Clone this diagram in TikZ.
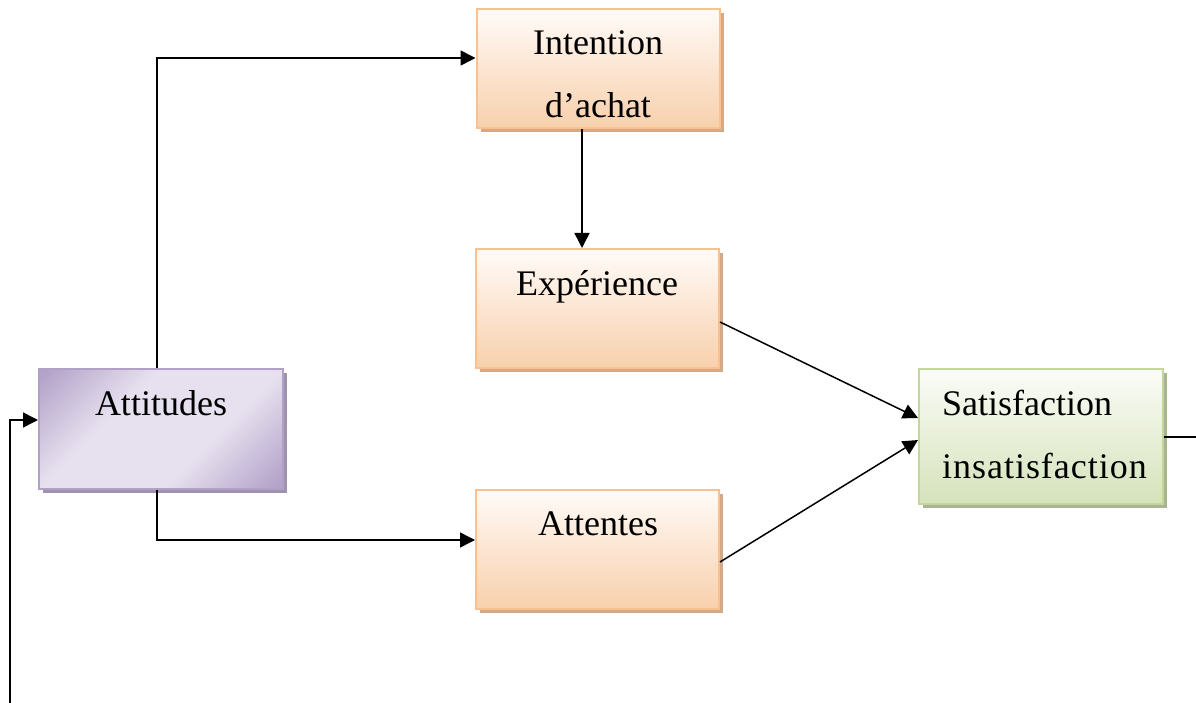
\documentclass[tikz,border=0pt]{standalone}
\usepackage{fontspec}
\setmainfont{Liberation Serif}
\usetikzlibrary{arrows.meta,shadows,calc}

\definecolor{peachline}{HTML}{FAC090}
\definecolor{peachlo}{HTML}{F8D0AC}
\definecolor{peachhi}{HTML}{FFFBF8}
\definecolor{peachsh}{HTML}{D2AA88}
\definecolor{lilacline}{HTML}{B2A1C7}
\definecolor{lilacdark}{HTML}{B3A2C9}
\definecolor{lilaclight}{HTML}{E7E1EF}
\definecolor{lilacsh}{HTML}{9E92AE}
\definecolor{sageline}{HTML}{C3D69B}
\definecolor{sagelo}{HTML}{D5E2BA}
\definecolor{sagehi}{HTML}{FBFCF8}
\definecolor{sagesh}{HTML}{A9B493}

% diagonal sweep: dark corner, light middle, dark corner
\pgfdeclarehorizontalshading{lilacsweep}{100bp}{%
  color(0bp)=(lilacdark); color(16bp)=(lilacdark);
  color(38bp)=(lilaclight); color(62bp)=(lilaclight);
  color(84bp)=(lilacdark); color(100bp)=(lilacdark)}

\begin{document}
\begin{tikzpicture}[x=1pt,y=-1pt,
  box/.style={rectangle, inner sep=0pt, line width=2pt},
  peachbox/.style={box, draw=peachline, top color=peachhi, bottom color=peachlo,
    minimum width=243pt, minimum height=119pt,
    drop shadow={shadow xshift=4pt, shadow yshift=-4pt, fill=peachsh, opacity=1}},
  lilacbox/.style={box, draw=lilacline, shading=lilacsweep, shading angle=-45,
    minimum width=244pt, minimum height=120pt,
    drop shadow={shadow xshift=4pt, shadow yshift=-4pt, fill=lilacsh, opacity=1}},
  sagebox/.style={box, draw=sageline, top color=sagehi, bottom color=sagelo,
    minimum width=244pt, minimum height=135pt,
    drop shadow={shadow xshift=4pt, shadow yshift=-4pt, fill=sagesh, opacity=1}},
  txt/.style={inner sep=0pt, anchor=base, font=\fontsize{36}{43}\selectfont},
  wire/.style={line width=1.5pt, black},
  conn/.style={wire, -{Triangle[length=15pt,width=15pt]}}]

\useasboundingbox (0,0) rectangle (1196,703);

% boxes
\node[peachbox] (int) at (598,69) {};
\node[peachbox] (exp) at (597.5,308.5) {};
\node[peachbox] (ate) at (597.5,549.5) {};
\node[lilacbox] (att) at (161,429) {};
\node[sagebox]  (sat) at (1041,436.5) {};

% texts
\node[txt] (intA) at (598,55) {Intention};
\node[txt] (intB) at (598,118) {d’achat};
\node[txt] (expT) at (597,295) {Expérience};
\node[txt] (ateT) at (598,535) {Attentes};
\node[txt] (attT) at (161,415) {Attitudes};
\node[txt, anchor=base west] (satA) at (942,415) {Satisfaction};
\node[txt, anchor=base west] (satB) at (942,478)
  {\addfontfeature{LetterSpace=2.7}insatisfaction};

% free ends
\coordinate (entry) at (10,703);
\coordinate (exit) at (1196,437);

% connectors
\draw[conn] ($(att.north)+(-4,0)$) |- ($(int.west)+(0,-11)$);
\draw[conn] ($(att.south)+(-4,0)$) |- ($(ate.west)+(0,-9.5)$);
\draw[conn] ($(int.south)+(-16,0)$) -- ($(exp.north)+(-15.5,0)$);
\draw[conn] ($(exp.east)+(0,13.5)$) -- ($(sat.west)+(0,-18.5)$);
\draw[conn] ($(ate.east)+(0,12.5)$) -- ($(sat.west)+(0,3.5)$);
\draw[wire] (sat.east |- exit) -- (exit);
\draw[conn] (entry) |- ($(att.west)+(0,-9)$);

\end{tikzpicture}
\end{document}
